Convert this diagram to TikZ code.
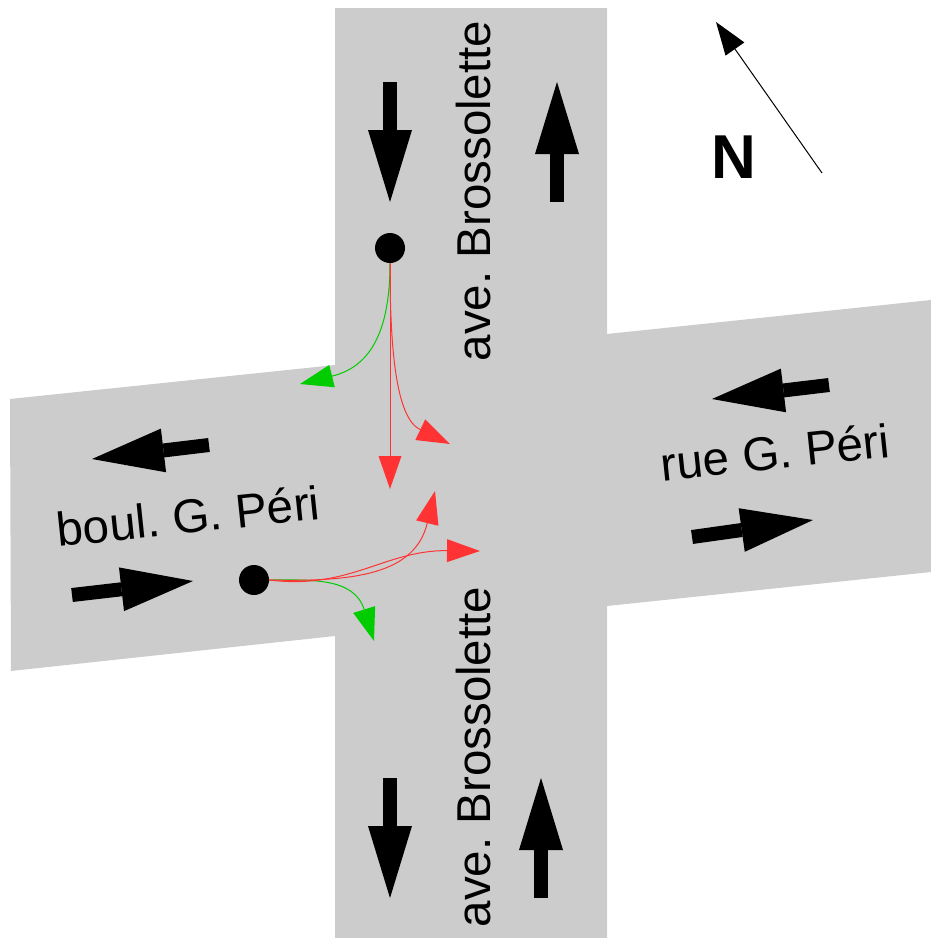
\documentclass[tikz,border=0pt]{standalone}
\usepackage{fontspec}
\setmainfont{Liberation Sans}
\usepackage{xcolor}
\usetikzlibrary{arrows.meta}

\definecolor{roadgray}{HTML}{CCCCCC}
\definecolor{turnred}{HTML}{FF3333}
\definecolor{turngreen}{HTML}{00CC00}

\tikzset{
    road/.style={fill=roadgray,draw=none},
    stopdot/.style={circle,fill=black,inner sep=0pt,minimum size=30pt},
    bigarrow/.style={line width=14pt,-{Triangle[length=72pt,width=44pt,line width=0pt]}},
    thinarrow/.style={line width=1pt,-{Triangle[length=33pt,width=23pt,line width=0pt]}},
    streetname/.style={font=\fontsize{47.5}{48}\selectfont\frenchspacing,anchor=base,inner sep=0pt},
}

\begin{document}
\begin{tikzpicture}[x=1pt,y=-1pt]
    \useasboundingbox (0,0) rectangle (931,938);

    \fill[road] (335,8) -- (607,8) -- (607,334) -- (931,300) -- (931,572) -- (607,606)
        -- (607,938) -- (335,938) -- (335,636) -- (11,671) -- (10,399) -- (335,365) -- cycle;

    \draw (490,191) node[streetname,rotate=90] (aveNorth) {ave. Brossolette};
    \draw (490,757) node[streetname,rotate=90] (aveSouth) {ave. Brossolette};
    \draw (190,533) node[streetname,rotate=6] (boulPeri) {boul. G. Péri};
    \draw (777,469) node[streetname,rotate=6] (ruePeri) {rue G. Péri};
    \draw (734,178) node[anchor=base,inner sep=0pt,font=\fontsize{62}{62}\selectfont\bfseries] (northLabel) {N};

    \draw (390,248) node[stopdot] (dotA) {};
    \draw (254,580) node[stopdot] (dotB) {};

    \coordinate (nA) at (390,82);
    \coordinate (nB) at (390,202);
    \coordinate (nC) at (557,202);
    \coordinate (nD) at (557,82);
    \coordinate (sA) at (390,778);
    \coordinate (sB) at (390,898);
    \coordinate (sC) at (541,898);
    \coordinate (sD) at (541,778);
    \coordinate (wA) at (209,445);
    \coordinate (wB) at (92,459);
    \coordinate (wC) at (72,595);
    \coordinate (wD) at (193,581);
    \coordinate (eA) at (829,385);
    \coordinate (eB) at (712,399);
    \coordinate (eC) at (692,537);
    \coordinate (eD) at (813,520);

    \draw[bigarrow] (nA) -- (nB);
    \draw[bigarrow] (nC) -- (nD);
    \draw[bigarrow] (sA) -- (sB);
    \draw[bigarrow] (sC) -- (sD);
    \draw[bigarrow] (wA) -- (wB);
    \draw[bigarrow] (wC) -- (wD);
    \draw[bigarrow] (eA) -- (eB);
    \draw[bigarrow] (eC) -- (eD);

    \coordinate (compassA) at (822,173);
    \coordinate (compassB) at (716,22);
    \draw[thinarrow] (compassA) -- (compassB);

    \coordinate (aLeft) at (300,384);
    \coordinate (aStraight) at (390,489);
    \coordinate (aRight) at (450,444);
    \coordinate (bLeft) at (435,491);
    \coordinate (bStraight) at (480,551);
    \coordinate (bRight) at (374,641);

    \draw[thinarrow,turngreen] (dotA.south) .. controls (390,340) and (365,368) .. (aLeft);
    \draw[thinarrow,turngreen] (dotB.east) .. controls (310,580) and (354,577) .. (bRight);
    \draw[thinarrow,turnred] (dotA.south) -- (aStraight);
    \draw[thinarrow,turnred] (dotA.south) .. controls (390,350) and (396,418) .. (aRight);
    \draw[thinarrow,turnred] (dotB.east) .. controls (355,582) and (415,574) .. (bLeft);
    \draw[thinarrow,turnred] (dotB.east) .. controls (350,590) and (385,550) .. (bStraight);
\end{tikzpicture}
\end{document}
